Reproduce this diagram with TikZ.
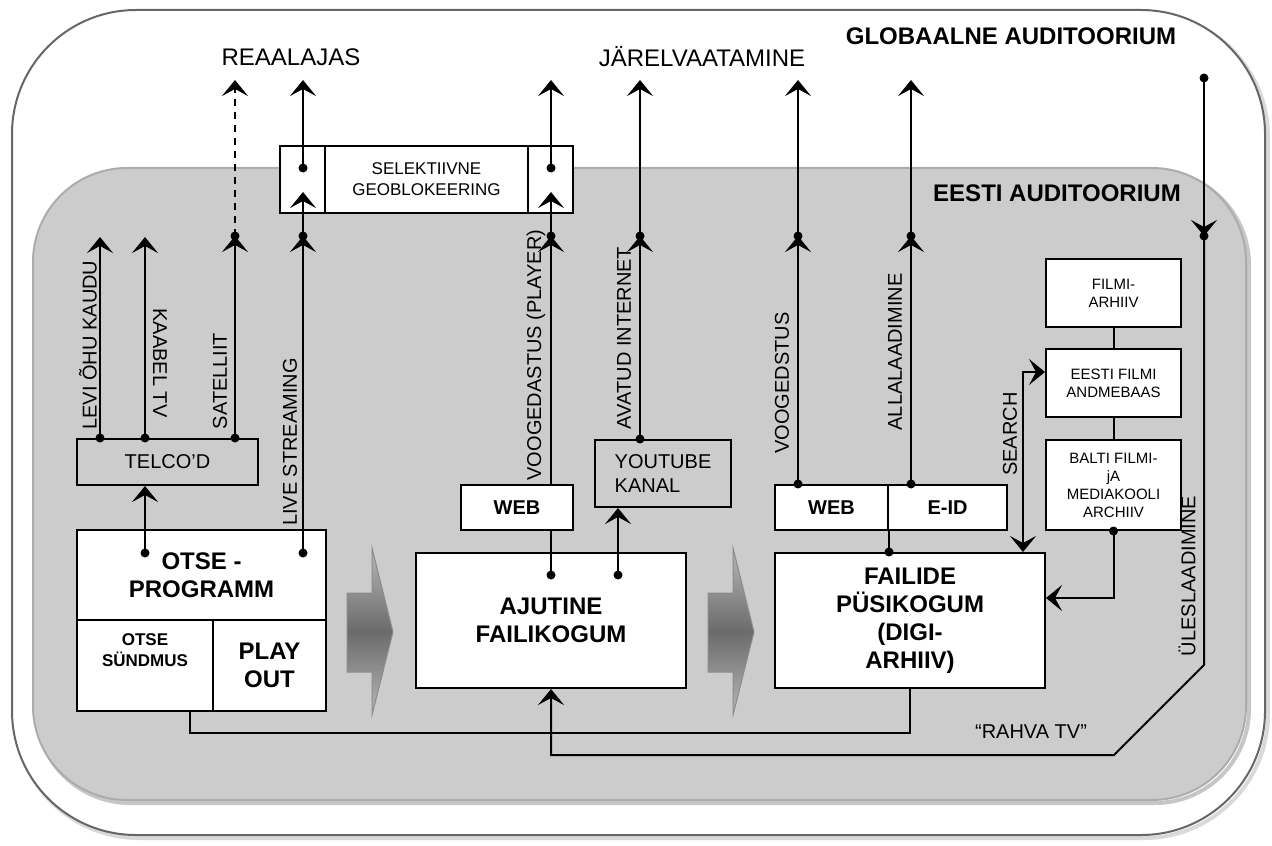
\documentclass[tikz,border=0pt]{standalone}
\usepackage{fontspec}
\setmainfont{Liberation Sans}
\usetikzlibrary{arrows.meta, positioning, calc}
\definecolor{eestigray}{HTML}{CCCCCC}
\definecolor{rim}{HTML}{666666}
\newcommand{\ftBig}{\fontsize{12}{14}\selectfont\bfseries}
\newcommand{\ftHead}{\fontsize{12}{14}\selectfont}
\newcommand{\ftMid}{\fontsize{10}{12}\selectfont}
\newcommand{\ftSmall}{\fontsize{8.5}{10.5}\selectfont}
\newcommand{\ftTiny}{\fontsize{7.5}{9}\selectfont}

\begin{document}
\begin{tikzpicture}[x=0.5pt, y=-0.5pt, line width=1pt,
  sbox/.style={draw, fill=white, inner sep=1pt, align=center},
  gbox/.style={sbox, fill=eestigray},
  arr/.style={-{Stealth[length=8pt, width=13pt, inset=3.5pt]}},
  dblarr/.style={{Stealth[length=8pt, width=13pt, inset=3.5pt]}-{Stealth[length=8pt, width=13pt, inset=3.5pt]}},
  vlabel/.style={font=\ftMid, rotate=90}]
  \useasboundingbox (0,0) rectangle (1272,845);

  % Audiences
  \draw[gray!30, line width=2pt, rounded corners=62pt] (15,13) rectangle (1268,838);
  \draw[rim, fill=white, rounded corners=62pt] (12,10) rectangle (1265,835);
  \draw[gray!45, line width=2pt, rounded corners=47pt] (36,171) rectangle (1249,803);
  \draw[gray!65, fill=eestigray, rounded corners=47pt] (33,168) rectangle (1246,800);
  \node[font=\ftBig] (global) at (1011,36) {GLOBAALNE AUDITOORIUM};
  \node[font=\ftBig] (local) at (1057,193) {EESTI AUDITOORIUM};
  \node[font=\ftHead] (realtime) at (291,57) {REAALAJAS};
  \node[font=\ftHead] (later) at (702,57) {JÄRELVAATAMINE};

  % Flow arrows between the stores
  \foreach \ax in {347,708} {
    \shadedraw[top color=black!28, bottom color=black!28, middle color=black!58,
               draw=black!45, line width=0.5pt]
      (\ax,593) -- ++(25,0) -- ++(0,-45) -- ++(21,84) -- ++(-21,83)
      -- ++(0,-43) -- ++(-25,0) -- cycle;
  }

  % Live programme
  \node[gbox, minimum width=90.5pt, minimum height=23pt, font=\ftMid] (telco) at (167.5,462) {TELCO’D};
  \node[sbox, minimum width=124.5pt, minimum height=45pt, font=\ftBig] (otse) at (201.5,575) {OTSE -\\PROGRAMM};
  \node[sbox, minimum width=68pt, minimum height=45.5pt, font=\ftSmall\bfseries, text depth=15pt] (sundmus) at (145,665.5) {OTSE\\SÜNDMUS};
  \node[sbox, minimum width=56.5pt, minimum height=45.5pt, font=\ftBig] (playout) at (269.5,665.5) {PLAY\\OUT};

  % Geoblocking
  \node[sbox, minimum width=22.5pt, minimum height=33.5pt] (selL) at (302.5,179.5) {};
  \node[sbox, minimum width=101.5pt, minimum height=33.5pt, font=\ftSmall] (selM) at (426.5,179.5) {SELEKTIIVNE\\GEOBLOKEERING};
  \node[sbox, minimum width=22.5pt, minimum height=33.5pt] (selR) at (550.5,179.5) {};

  % Temporary store
  \node[sbox, minimum width=56pt, minimum height=22.5pt, font=\ftMid\bfseries] (webA) at (517,507.5) {WEB};
  \node[gbox, minimum width=68pt, minimum height=33.5pt, font=\ftMid, align=left] (youtube) at (663,473.5) {YOUTUBE\\KANAL};
  \node[sbox, minimum width=135pt, minimum height=67.5pt, font=\ftBig] (ajutine) at (551,620.5) {AJUTINE\\FAILIKOGUM};

  % Permanent store
  \node[sbox, minimum width=56.5pt, minimum height=22.5pt, font=\ftMid\bfseries] (webB) at (831.5,507.5) {WEB};
  \node[sbox, minimum width=59.5pt, minimum height=22.5pt, font=\ftMid\bfseries] (eid) at (947.5,507.5) {E-ID};
  \node[sbox, minimum width=135pt, minimum height=67.5pt, font=\ftBig] (failide) at (910,620.5) {FAILIDE\\PÜSIKOGUM\\(DIGI-\\ARHIIV)};

  % Archives
  \node[sbox, minimum width=67.5pt, minimum height=34pt, font=\ftTiny] (filmi) at (1113.5,293) {FILMI-\\ARHIIV};
  \node[sbox, minimum width=67.5pt, minimum height=34pt, font=\ftTiny] (eesti) at (1113.5,383) {EESTI FILMI\\ANDMEBAAS};
  \node[sbox, minimum width=67.5pt, minimum height=45pt, font=\ftTiny] (balti) at (1113.5,485) {BALTI FILMI-\\jA\\MEDIAKOOLI\\ARCHIIV};

  % Junctions
  \coordinate (leviTip) at (100,237);
  \coordinate (kaabelTip) at (145,237);
  \coordinate (satMid) at (235,236);
  \coordinate (satTip) at (235,80);
  \coordinate (otseA) at (145,553);
  \coordinate (otseB) at (303,553);
  \coordinate (liveMid) at (303,236);
  \coordinate (liveIn) at (303,192);
  \coordinate (liveOut) at (303,168);
  \coordinate (liveTip) at (303,80);
  \coordinate (ajA) at (551,575);
  \coordinate (ajB) at (618,575);
  \coordinate (playMid) at (551,236);
  \coordinate (playIn) at (551,192);
  \coordinate (playOut) at (551,168);
  \coordinate (playTip) at (551,80);
  \coordinate (avMid) at (640,236);
  \coordinate (avTip) at (640,80);
  \coordinate (voogMid) at (798,236);
  \coordinate (voogTip) at (798,80);
  \coordinate (allaMid) at (911,236);
  \coordinate (allaTip) at (911,80);
  \coordinate (searchBend) at (1023,372);
  \coordinate (baltiBend) at (1113.5,598);
  \coordinate (globTop) at (1204,78);
  \coordinate (globMid) at (1204,236);
  \coordinate (upKnee) at (1204,665);
  \coordinate (upFoot) at (1114,755);
  \coordinate (archA) at (190,733);

  % Broadcast
  \draw[arr] (telco.north -| leviTip) -- (leviTip);
  \draw[arr] (telco.north -| kaabelTip) -- (kaabelTip);
  \draw[arr] (telco.north -| satMid) -- (satMid);
  \draw[arr, dash pattern=on 3.5pt off 3pt] (satMid) -- (satTip);
  \draw[arr] (otseA) -- (otseA |- telco.south);
  \draw[arr] (otseB) -- (liveMid);
  \draw[arr] (liveMid) -- (liveIn);
  \draw[arr] (liveOut) -- (liveTip);

  % On demand
  \draw (ajA) -- (ajA |- webA.south);
  \draw[arr] (ajA |- webA.north) -- (playMid);
  \draw[arr] (playMid) -- (playIn);
  \draw[arr] (playOut) -- (playTip);
  \draw[arr] (ajB) -- (ajB |- youtube.south);
  \draw[arr] (youtube.north -| avMid) -- (avMid);
  \draw[arr] (avMid) -- (avTip);
  \draw[arr] (webB.north -| voogMid) -- (voogMid);
  \draw[arr] (voogMid) -- (voogTip);
  \draw[arr] (eid.north -| allaMid) -- (allaMid);
  \draw[arr] (allaMid) -- (allaTip);
  \draw (failide.north -| webB.east) -- (webB.south east);

  % Archive links
  \draw (filmi) -- (eesti);
  \draw (eesti) -- (balti);
  \draw[dblarr] (failide.north -| searchBend) -- (searchBend) -- (searchBend -| eesti.west);
  \draw[arr] (balti.south) -- (baltiBend) -- (baltiBend -| failide.east);

  % Upload and recording loops
  \draw[arr] (globTop) -- (globMid);
  \draw[arr] (globMid) -- (upKnee) -- (upFoot) -| (ajutine.south);
  \draw (sundmus.south -| archA) -- (archA) -| (failide.south);

  \foreach \p in {telco.north -| leviTip, telco.north -| kaabelTip, telco.north -| satMid,
                  satMid, otseA, otseB, liveMid, liveOut, ajA, ajB, playMid, playOut,
                  youtube.north -| avMid, avMid, webB.north -| voogMid, voogMid,
                  eid.north -| allaMid, allaMid, failide.north -| webB.east,
                  balti.south, globTop, globMid}
    \fill (\p) circle (2.25pt);

  % Labels
  \node[vlabel] (levi) at (88,345) {LEVI ÕHU KAUDU};
  \node[font=\ftMid, rotate=-90] (kaabel) at (160,363) {KAABEL TV};
  \node[vlabel] (satelliit) at (220,381) {SATELLIIT};
  \node[vlabel] (live) at (290,442) {LIVE STREAMING};
  \node[vlabel] (player) at (536,355) {VOOGEDASTUS (PLAYER)};
  \node[vlabel] (avatud) at (624,338) {AVATUD INTERNET};
  \node[vlabel] (voog) at (782,383) {VOOGEDSTUS};
  \node[vlabel] (alla) at (895,352) {ALLALAADIMINE};
  \node[vlabel] (search) at (1010,434) {SEARCH};
  \node[vlabel] (yles) at (1187,576) {ÜLESLAADIMINE};
  \node[font=\ftMid] (rahva) at (1031,732) {“RAHVA TV”};
\end{tikzpicture}
\end{document}
